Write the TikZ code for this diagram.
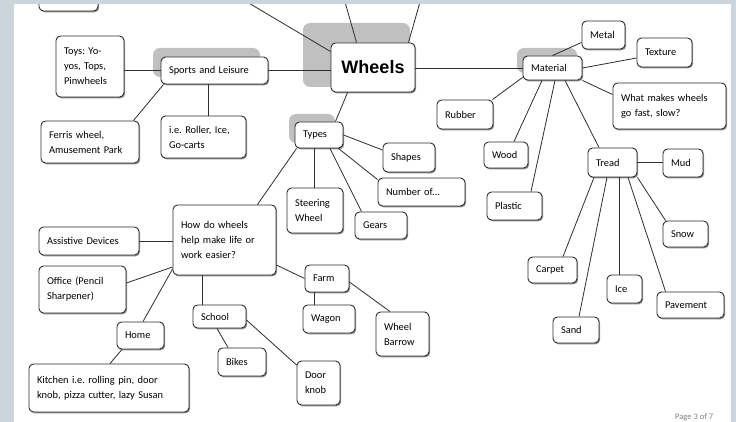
\documentclass[tikz,border=0pt]{standalone}
\usepackage{fontspec}
\setmainfont{Carlito}
\newfontfamily\wheelfont{Liberation Sans}
\usetikzlibrary{calc,shadows}
\frenchspacing
\definecolor{frame}{RGB}{204,213,219}
\definecolor{hlgrey}{RGB}{192,192,192}
\definecolor{edge}{RGB}{45,45,45}
\tikzset{
  box/.style={draw=edge, line width=0.9pt, rounded corners=4.5pt, fill=white,
    drop shadow={shadow xshift=1.1pt, shadow yshift=-1.3pt, opacity=0.45, fill=black},
    font=\fontsize{10.4}{15}\selectfont, align=left, inner xsep=8pt, inner ysep=1pt},
  conn/.style={draw=edge, line width=0.8pt},
  hl/.style={fill=hlgrey, rounded corners=7pt}
}
\begin{document}
\begin{tikzpicture}[x=1pt,y=-1pt]
\useasboundingbox (0,0) rectangle (736,422);
\clip (0,0) rectangle (736,422);
\fill[white] (0,0) rectangle (736,422);
% highlight shapes
\fill[hl] (303,23) rectangle (410,87);
\fill[hl] (153,48) rectangle (260,77);
\fill[hl] (517,48) rectangle (577,73);
\fill[hl] (289,114) rectangle (335,143);
% nodes
\node[box, text width=68pt, minimum height=49pt, align=center, font=\wheelfont\bfseries\fontsize{18}{20}\selectfont] (wheels) at (373,67.5) {Wheels};
\node[box, text width=91pt, minimum height=27pt] (sports) at (214.5,70.5) {Sports and Leisure};
\node[box, text width=52pt, minimum height=61pt] (toys) at (90,66.5) {Toys: Yo-\\yos, Tops,\\Pinwheels};
\node[box, text width=82pt, minimum height=42pt] (ferris) at (90,142) {Ferris wheel,\\Amusement Park};
\node[box, text width=69pt, minimum height=42pt] (roller) at (203.5,137) {i.e. Roller, Ice,\\Go-carts};
\node[box, text width=43pt, minimum height=28pt] (topbox) at (68.5,-3) {};
\node[box, text width=43pt, minimum height=24pt] (material) at (552.5,68) {Material};
\node[box, text width=27pt, minimum height=28pt] (metal) at (603.5,35) {Metal};
\node[box, text width=39pt, minimum height=29pt] (texture) at (664.5,52.5) {Texture};
\node[box, text width=97pt, minimum height=46pt] (whatmakes) at (669.5,106) {What makes wheels\\go fast, slow?};
\node[box, text width=40pt, minimum height=29pt] (rubber) at (465,114.5) {Rubber};
\node[box, text width=28pt, minimum height=26pt] (wood) at (506,155) {Wood};
\node[box, text width=39pt, minimum height=28pt] (plastic) at (514.5,206) {Plastic};
\node[box, text width=33pt, minimum height=29pt] (tread) at (612.5,162.5) {Tread};
\node[box, text width=24pt, minimum height=28pt] (mud) at (683,163) {Mud};
\node[box, text width=29pt, minimum height=26pt] (snow) at (685.5,234) {Snow};
\node[box, text width=33pt, minimum height=26pt] (carpet) at (552.5,270) {Carpet};
\node[box, text width=30pt, minimum height=26pt] (sand) at (576,330) {Sand};
\node[box, text width=19pt, minimum height=28pt] (ice) at (624.5,289) {Ice};
\node[box, text width=51pt, minimum height=26pt] (pavement) at (690.5,305) {Pavement};
\node[box, text width=32pt, minimum height=26pt] (types) at (319,135) {Types};
\node[box, text width=40pt, minimum height=45pt] (steering) at (315,210.5) {Steering\\Wheel};
\node[box, text width=36pt, minimum height=29pt] (shapes) at (409,157.5) {Shapes};
\node[box, text width=71pt, minimum height=28pt] (number) at (421.5,192) {Number of...};
\node[box, text width=36pt, minimum height=27pt] (gears) at (381,225.5) {Gears};
\node[box, text width=87pt, minimum height=70pt] (how) at (224.5,240) {How do wheels\\help make life or\\work easier?};
\node[box, text width=84pt, minimum height=28pt] (assistive) at (89,241) {Assistive Devices};
\node[box, text width=71pt, minimum height=47pt] (office) at (82.5,289.5) {Office (Pencil\\Sharpener)};
\node[box, text width=31pt, minimum height=27pt] (home) at (140.5,335.5) {Home};
\node[box, text width=144pt, minimum height=48pt] (kitchen) at (109,388) {Kitchen i.e. rolling pin, door\\knob, pizza cutter, lazy Susan};
\node[box, text width=37pt, minimum height=23pt] (school) at (219.5,316.5) {School};
\node[box, text width=32pt, minimum height=28pt] (bikes) at (242,362) {Bikes};
\node[box, text width=27pt, minimum height=44pt] (doorknob) at (318.5,383) {Door\\knob};
\node[box, text width=28pt, minimum height=27pt] (farm) at (327,278.5) {Farm};
\node[box, text width=36pt, minimum height=28pt] (wagon) at (329,319) {Wagon};
\node[box, text width=37pt, minimum height=44pt] (barrow) at (402.5,334) {Wheel\\Barrow};
% free ends at the top
\coordinate (t1) at (247,2);
\coordinate (t2) at (345,2);
\coordinate (t3) at (420,2);
% connectors
\draw[conn] (t1) -- ($(wheels.north west)+(0,9)$);
\draw[conn] (t2) -- ($(wheels.north west)+(26,0)$);
\draw[conn] (t3) -- ($(wheels.north east)+(-7,0)$);
\draw[conn] (sports.east) -- (sports.east -| wheels.west);
\draw[conn] (wheels.east |- material.west) -- (material.west);
\draw[conn] ($(wheels.south west)+(17,0)$) -- ($(types.north east)+(-8,0)$);
\draw[conn] (sports.west -| toys.east) -- (sports.west);
\draw[conn] ($(sports.south west)+(3,0)$) -- ($(ferris.north east)+(-6,0)$);
\draw[conn] ($(sports.south)+(-6.5,0)$) -- ($(roller.north)+(4.5,0)$);
\draw[conn] (material.north) -- ($(metal.south west)+(0,-7)$);
\draw[conn] (material.east) -- ($(texture.west)+(0,5.5)$);
\draw[conn] (material.south east) -- ($(whatmakes.north west)+(0,12)$);
\draw[conn] ($(material.south west)+(0,-3)$) -- ($(rubber.north east)+(-1,0)$);
\draw[conn] ($(material.south)+(-10.5,0)$) -- ($(wood.north)+(8,0)$);
\draw[conn] ($(material.south)+(2.5,0)$) -- ($(plastic.north)+(16.5,0)$);
\draw[conn] ($(material.south)+(12.5,0)$) -- ($(tread.north)+(-13.5,0)$);
\draw[conn] (tread.east) -- (tread.east -| mud.west);
\draw[conn] (tread.south east) -- ($(snow.north west)+(3,0)$);
\draw[conn] ($(tread.south)+(-18.5,0)$) -- ($(carpet.north)+(10.5,0)$);
\draw[conn] ($(tread.south)+(-5.5,0)$) -- ($(sand.north)+(3,0)$);
\draw[conn] ($(tread.south)+(6.5,0)$) -- ($(ice.north)+(-5.5,0)$);
\draw[conn] ($(tread.south)+(15.5,0)$) -- ($(pavement.north west)+(9,0)$);
\draw[conn] (types.east) -- ($(shapes.west)+(0,-7.5)$);
\draw[conn] ($(types.south east)+(-5,0)$) -- ($(number.north west)+(0,2)$);
\draw[conn] ($(types.south)+(11,0)$) -- ($(gears.north west)+(7,0)$);
\draw[conn] ($(types.south)+(-5,0)$) -- ($(steering.north)+(-1,0)$);
\draw[conn] ($(types.south west)+(2,0)$) -- ($(how.north east)+(-19,0)$);
\draw[conn] (assistive.east) -- (assistive.east -| how.west);
\draw[conn] ($(office.east)+(0,-6.5)$) -- ($(how.west)+(0,27)$);
\draw[conn] ($(how.west)+(0,29)$) -- ($(home.north)+(2.5,0)$);
\draw[conn] ($(home.south)+(-18.5,0)$) -- ($(kitchen.north)+(1,0)$);
\draw[conn] ($(how.south)+(-22.5,0)$) -- ($(school.north)+(-17.5,0)$);
\draw[conn] ($(school.south)+(-2.5,0)$) -- ($(bikes.north)+(-14,0)$);
\draw[conn] ($(school.east)+(0,3.5)$) -- ($(doorknob.west)+(0,-18)$);
\draw[conn] ($(how.east)+(0,25)$) -- (farm.west);
\draw[conn] ($(farm.south)+(-13,0)$) -- ($(wagon.north)+(-15,0)$);
\draw[conn] ($(farm.east)+(0,3.5)$) -- ($(barrow.north)+(-12.5,0)$);
% page footer
\node[anchor=base west, inner sep=0pt, text=gray, font=\fontsize{8.5}{10}\selectfont] (footer) at (675,419) {Page 3 of 7};
% frame around the page
\fill[frame] (0,0) rectangle (736,4);
\fill[frame] (0,0) rectangle (14,422);
\fill[frame] (731,0) rectangle (736,422);
\end{tikzpicture}
\end{document}
